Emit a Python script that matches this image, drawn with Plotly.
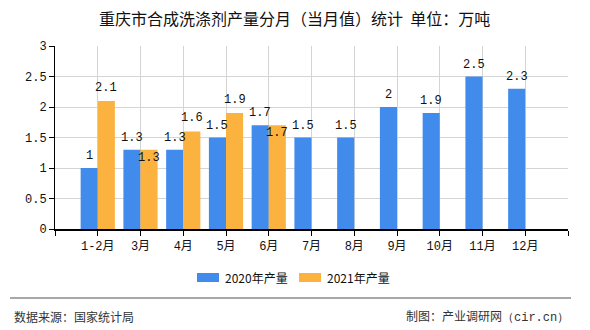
import plotly.graph_objects as go

# Monthly output of synthetic detergent in Chongqing (10k tonnes)
months = ["1-2月", "3月", "4月", "5月", "6月", "7月", "8月", "9月", "10月", "11月", "12月"]
output_2020 = [1.0, 1.3, 1.3, 1.5, 1.7, 1.5, 1.5, 2.0, 1.9, 2.5, 2.3]
output_2021 = [2.1, 1.3, 1.6, 1.9, 1.7, None, None, None, None, None, None]
y_ticks = [0, 0.5, 1, 1.5, 2, 2.5, 3]

BLUE = "#418BED"
ORANGE = "#FCB23F"
CJK = "Noto Sans CJK SC"
MONO = "Liberation Mono, DejaVu Sans Mono, Noto Sans CJK SC"

W, H = 590, 330
L, R, T, B = 55, 568, 46, 229  # plot area in pixels


def px(x):
    return (x - L) / (R - L)


def py(y):
    return (B - y) / (B - T)


xs = list(range(1, len(months) + 1))

fig = go.Figure()
fig.add_trace(go.Bar(x=xs, y=output_2020, name="2020年产量", marker_color=BLUE,
                     marker_line_width=0, showlegend=False, hoverinfo="skip"))
fig.add_trace(go.Bar(x=xs, y=output_2021, name="2021年产量", marker_color=ORANGE,
                     marker_line_width=0, showlegend=False, hoverinfo="skip"))

annotations = []
label_font = dict(family=MONO, size=12, color="#111")
for i, (a, b) in enumerate(zip(output_2020, output_2021)):
    x = xs[i]
    annotations.append(dict(x=x - 0.2, y=a, xref="x", yref="y", text=f"{a:g}",
                            showarrow=False, yanchor="middle", yshift=12, font=label_font))
    if b is not None:
        inside = abs(a - b) < 0.05
        annotations.append(dict(x=x + 0.2, y=b, xref="x", yref="y", text=f"{b:g}",
                                showarrow=False, yanchor="middle",
                                yshift=-8 if inside else 13, font=label_font))

# Title
annotations.append(dict(x=px(294), y=py(18), xref="paper", yref="paper",
                        text="重庆市合成洗涤剂产量分月（当月值）统计  单位：万吨",
                        showarrow=False, xanchor="center", yanchor="middle",
                        font=dict(family=CJK, size=16, color="#111")))

# Legend
legend_items = [("2020年产量", BLUE, 197, 223), ("2021年产量", ORANGE, 299, 325)]
shapes = []
for label, color, rx, tx in legend_items:
    shapes.append(dict(type="rect", xref="paper", yref="paper",
                       x0=px(rx), x1=px(rx + 22), y0=py(282), y1=py(273),
                       fillcolor=color, line_width=0))
    annotations.append(dict(x=px(tx), y=py(277.5), xref="paper", yref="paper",
                            text=label, showarrow=False, xanchor="left", yanchor="middle",
                            font=dict(family=CJK, size=12, color="#111")))

# Footer
shapes.append(dict(type="line", xref="paper", yref="paper",
                   x0=px(10), x1=px(571), y0=py(298), y1=py(298),
                   line=dict(color="#8a8a8a", width=1.5)))
annotations.append(dict(x=px(12), y=py(316), xref="paper", yref="paper",
                        text="数据来源：国家统计局", showarrow=False,
                        xanchor="left", yanchor="middle",
                        font=dict(family=CJK, size=12, color="#333")))
annotations.append(dict(x=px(571), y=py(316), xref="paper", yref="paper",
                        text="制图：产业调研网<span style='font-family:Liberation Mono'>（cir.cn）</span>",
                        showarrow=False, xanchor="right", yanchor="middle",
                        font=dict(family=CJK, size=12, color="#333")))

fig.update_layout(
    width=W, height=H,
    margin=dict(l=L, r=W - R, t=T, b=H - B),
    paper_bgcolor="white", plot_bgcolor="white",
    barmode="group", bargap=0.2, bargroupgap=0,
    annotations=annotations, shapes=shapes,
    xaxis=dict(range=[0, len(months) + 1],
               tickvals=[0] + xs + [len(months) + 1],
               ticktext=[""] + months + [""],
               showgrid=True, gridcolor="#d4d4d4", gridwidth=1,
               showline=True, linecolor="#000", linewidth=1.5,
               ticks="outside", ticklen=5, tickcolor="#000",
               tickfont=dict(family=MONO, size=12, color="#111"),
               zeroline=False, fixedrange=True),
    yaxis=dict(range=[0, 3], tickvals=y_ticks,
               ticktext=[f"{v:g}" for v in y_ticks],
               showgrid=True, gridcolor="#d4d4d4", gridwidth=1,
               showline=True, linecolor="#000", linewidth=1,
               ticks="outside", ticklen=5, tickcolor="#000",
               tickfont=dict(family=MONO, size=12, color="#111"),
               zeroline=False, fixedrange=True),
)

fig.write_html("out.html")
